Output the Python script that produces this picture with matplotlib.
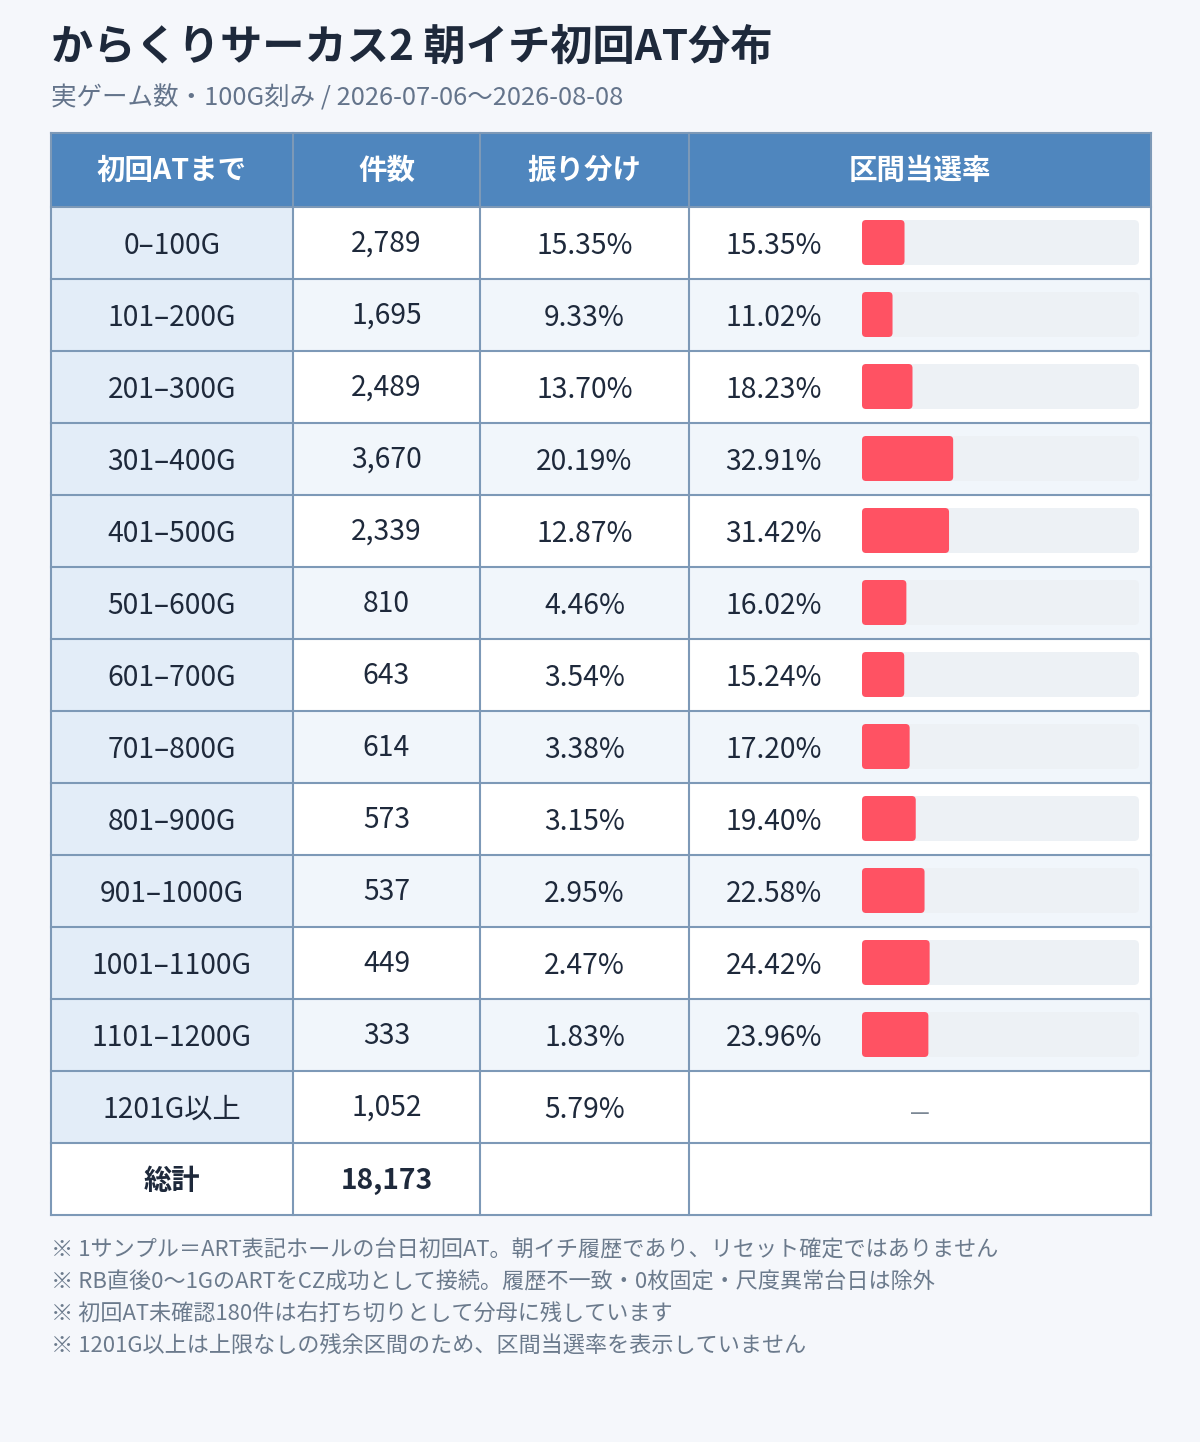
import matplotlib
matplotlib.use("Agg")
import matplotlib.pyplot as plt
from matplotlib.patches import Rectangle, FancyBboxPatch

plt.rcParams["font.family"] = ["Noto Sans CJK JP", "DejaVu Sans"]

# ---------------------------------------------------------------------------
# データ
# ---------------------------------------------------------------------------
titulo = "からくりサーカス2 朝イチ初回AT分布"
subtitulo = "実ゲーム数・100G刻み / 2026-07-06〜2026-08-08"
cabecalho = ["初回ATまで", "件数", "振り分け", "区間当選率"]

faixas = ["0–100G", "101–200G", "201–300G", "301–400G", "401–500G",
          "501–600G", "601–700G", "701–800G", "801–900G", "901–1000G",
          "1001–1100G", "1101–1200G", "1201G以上"]
contagens = [2789, 1695, 2489, 3670, 2339, 810, 643, 614, 573, 537, 449, 333, 1052]
divisao = [15.35, 9.33, 13.70, 20.19, 12.87, 4.46, 3.54, 3.38, 3.15, 2.95, 2.47, 1.83, 5.79]
taxa = [15.35, 11.02, 18.23, 32.91, 31.42, 16.02, 15.24, 17.20, 19.40, 22.58,
        24.42, 23.96, None]
total_label = "総計"
total = 18173

notas = [
    "※ 1サンプル＝ART表記ホールの台日初回AT。朝イチ履歴であり、リセット確定ではありません",
    "※ RB直後0〜1GのARTをCZ成功として接続。履歴不一致・0枚固定・尺度異常台日は除外",
    "※ 初回AT未確認180件は右打ち切りとして分母に残しています",
    "※ 1201G以上は上限なしの残余区間のため、区間当選率を表示していません",
]

# ---------------------------------------------------------------------------
# レイアウト (pixels)
# ---------------------------------------------------------------------------
W, H = 1200, 1442
BG = "#f5f7fb"
HEADER = "#4f86be"
BORDER = "#7d99b7"
COL1 = "#e3edf8"
ALT = "#f1f6fb"
TXT = "#1e293b"
TRACK = "#edf1f5"
RED = "#ff5263"

cols = [51, 293, 480, 689, 1151]
top = 133
head_h = 74
row_h = 72
bar_x0, bar_x1 = 862, 1139
FS = 20.3

fig = plt.figure(figsize=(W / 100, H / 100), dpi=100, facecolor=BG)
ax = fig.add_axes([0, 0, 1, 1])
ax.set_xlim(0, W)
ax.set_ylim(H, 0)
ax.axis("off")

ax.text(51, 48, titulo, fontsize=30.4, fontweight="bold", color=TXT, va="center", ha="left")
ax.text(51, 98, subtitulo, fontsize=18.4, color="#64748b", va="center", ha="left")

# cabeçalho
ax.add_patch(Rectangle((cols[0], top), cols[-1] - cols[0], head_h, facecolor=HEADER, edgecolor="none"))
for i, h in enumerate(cabecalho):
    cx = (cols[i] + cols[i + 1]) / 2
    ax.text(cx, top + head_h / 2 + 1, h, fontsize=20.5, fontweight="bold", color="white",
            ha="center", va="center")

y0 = top + head_h
n = len(faixas)
for r in range(n):
    yt = y0 + r * row_h
    yc = yt + row_h / 2 + 3
    fundo = ALT if r % 2 == 1 else "white"
    ax.add_patch(Rectangle((cols[0], yt), cols[1] - cols[0], row_h, facecolor=COL1, edgecolor="none"))
    ax.add_patch(Rectangle((cols[1], yt), cols[-1] - cols[1], row_h, facecolor=fundo, edgecolor="none"))

    ax.text((cols[0] + cols[1]) / 2, yc, faixas[r], fontsize=FS, color=TXT, ha="center", va="center")
    ax.text((cols[1] + cols[2]) / 2, yc - 2, f"{contagens[r]:,}", fontsize=FS, color=TXT,
            ha="center", va="center")
    ax.text((cols[2] + cols[3]) / 2, yc, f"{divisao[r]:.2f}%", fontsize=FS, color=TXT,
            ha="center", va="center")

    if taxa[r] is None:
        ax.text((cols[3] + cols[4]) / 2, yc + 4, "—", fontsize=16, color="#7b8794",
                ha="center", va="center")
    else:
        ax.text(822, yc, f"{taxa[r]:.2f}%", fontsize=FS, color=TXT, ha="right", va="center")
        ax.add_patch(FancyBboxPatch((bar_x0, yt + 13), bar_x1 - bar_x0, 45,
                                    boxstyle="round,pad=0,rounding_size=5",
                                    facecolor=TRACK, edgecolor="none"))
        largura = taxa[r] / 100 * (bar_x1 - bar_x0)
        ax.add_patch(FancyBboxPatch((bar_x0, yt + 13), largura, 45,
                                    boxstyle="round,pad=0,rounding_size=4",
                                    facecolor=RED, edgecolor="none"))

# linha do total
yt = y0 + n * row_h
ax.add_patch(Rectangle((cols[0], yt), cols[-1] - cols[0], row_h, facecolor="white", edgecolor="none"))
ax.text((cols[0] + cols[1]) / 2, yt + row_h / 2 + 2, total_label, fontsize=FS, fontweight="bold",
        color=TXT, ha="center", va="center")
ax.text((cols[1] + cols[2]) / 2, yt + row_h / 2 + 2, f"{total:,}", fontsize=FS, fontweight="bold",
        color=TXT, ha="center", va="center")

bottom = yt + row_h

# bordas
lw = 1.5
for x in cols:
    ax.plot([x, x], [top, bottom], color=BORDER, lw=lw, solid_capstyle="projecting")
ax.plot([cols[0], cols[-1]], [top, top], color=BORDER, lw=lw)
for r in range(n + 2):
    y = y0 + r * row_h
    ax.plot([cols[0], cols[-1]], [y, y], color=BORDER, lw=lw)

# notas
for i, nota in enumerate(notas):
    ax.text(51, 1251 + i * 32, nota, fontsize=15.9, color="#6b7a8c", ha="left", va="center")

fig.savefig("out.png", dpi=100, facecolor=BG)
